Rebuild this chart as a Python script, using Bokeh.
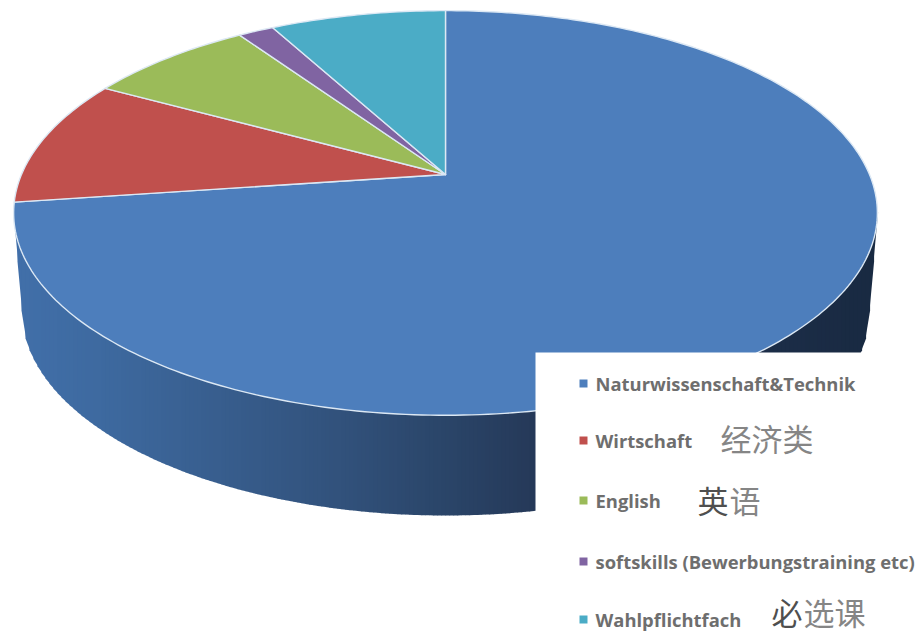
import numpy as np
from bokeh.plotting import figure
from bokeh.models import Range1d
from bokeh.core.properties import value
from bokeh.embed import file_html
from bokeh.resources import INLINE

categories = ["Naturwissenschaft&Technik", "Wirtschaft", "English",
              "softskills (Bewerbungstraining etc)", "Wahlpflichtfach"]
shares = [72.8, 10.2, 7.5, 1.6, 7.9]
colors = ["#4d7ebc", "#c0504d", "#9bbb59", "#8064a2", "#4bacc6"]
wall_anchor_x = [13, 100, 220, 340, 440, 530, 700, 877]
wall_anchor_rgb = [(66, 112, 170), (62, 106, 160), (56, 94, 142), (50, 82, 124),
                   (43, 70, 106), (38, 58, 90), (30, 48, 76), (25, 42, 66)]
cjk_notes = [("经济类", 720, 437, "#858585"), ("英", 697, 499, "#4f4f4f"), ("语", 729, 499, "#858585"),
             ("必", 771, 611, "#4f4f4f"), ("选课", 803, 611, "#858585")]
legend_y = [383, 440, 500, 561, 619]

# perspective projection of the unit disc onto the page
CX, APEX_Y, K, C, A = 445.0, 174.0, 195.0, 0.19, 424.0


def project(theta):
    u, v = np.sin(theta), np.cos(theta)
    d = 1 + C * v
    return CX + A * u / d, APEX_Y - K * v / d


p = figure(width=917, height=634, output_backend="svg", toolbar_location=None,
           x_range=Range1d(0, 917), y_range=Range1d(634, 0), min_border=0)
p.axis.visible = False
p.grid.visible = False
p.outline_line_color = None
p.background_fill_color = "white"
p.border_fill_color = "white"

# side wall, as a horizontal shading of thin strips under the top face
TOP_CY, TOP_B, TOP_A = 212.0, 202.0, 432.0
BOT_CY, BOT_B, BOT_A = 310.0, 205.0, 424.0


def lower_edge(x):
    t = np.abs(x - CX)
    if t >= BOT_A:
        frac = (t - BOT_A) / (TOP_A - BOT_A)
        return BOT_CY + (TOP_CY - BOT_CY) * frac
    return BOT_CY + BOT_B * np.sqrt(1 - (t / BOT_A) ** 2)


edges = np.arange(13, 878, 4.0)
xs, ys, cols = [], [], []
for a, b in zip(edges[:-1], edges[1:]):
    m = (a + b) / 2
    rgb = [int(np.interp(m, wall_anchor_x, [c[i] for c in wall_anchor_rgb])) for i in range(3)]
    xs.append([a, b + 0.6, b + 0.6, a])
    ys.append([TOP_CY, TOP_CY, lower_edge(b), lower_edge(a)])
    cols.append("#%02x%02x%02x" % tuple(rgb))
p.patches(xs, ys, fill_color=cols, line_color=None)

# top face, one wedge per share
start = 0.0
for s, col in zip(shares, colors):
    th = np.radians(np.linspace(start, start + s * 3.6, max(int(s * 4), 4)))
    x, y = project(th)
    p.patch(np.r_[CX, x], np.r_[APEX_Y, y], fill_color=col,
            line_color="#dce8f4", line_width=1.4, line_join="round")
    start += s * 3.6

# legend panel
p.quad(left=[535], right=[917], top=[352], bottom=[634], fill_color="white", line_color=None)
p.scatter([583] * 5, legend_y, marker="square", size=8, color=colors, line_color=None)
p.text([595] * 5, legend_y, text=categories, text_font=value("Open Sans"), text_font_style="bold",
       text_font_size="18.4px", text_color="#6e6e6e", text_baseline="middle", text_align="left")
for txt, x0, y0, col in cjk_notes:
    p.text([x0], [y0], text=[txt], text_font=value("Noto Sans CJK SC"),
           text_font_size="31px", text_color=col,
           text_baseline="middle", text_align="left")

open("out.html", "w").write(file_html(p, INLINE))
